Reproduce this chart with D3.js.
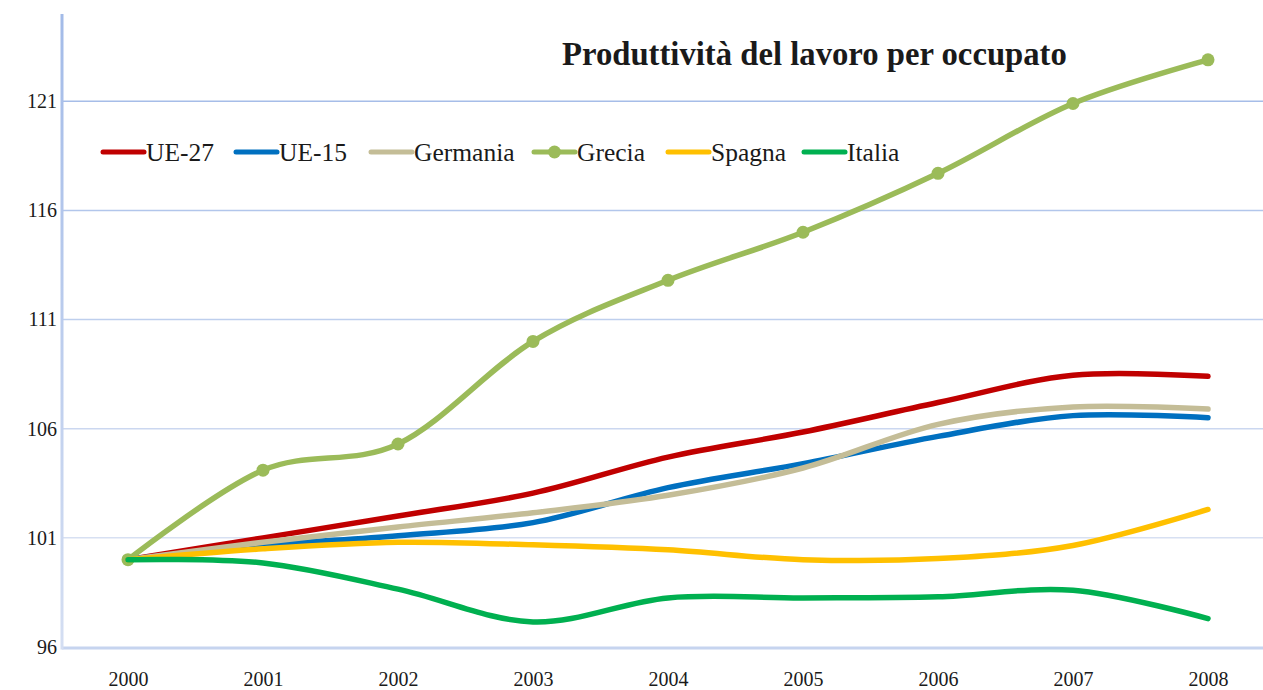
<!DOCTYPE html>
<html lang='it'>
<head>
<meta charset='utf-8'/>
<title>Produttività del lavoro per occupato</title>
<script src='https://d3js.org/d3.v7.min.js'></script>
<style>
  body { margin: 0; background: #ffffff; }
  text { font-family: 'Liberation Serif', 'DejaVu Serif', serif; fill: #1a1a1a; }
</style>
</head>
<body>
<script>
'use strict'

// data (index, 2000 = 100)
const years = ['2000', '2001', '2002', '2003', '2004', '2005', '2006', '2007', '2008']
const yTicks = [96, 101, 106, 111, 116, 121]
const seriesNames = ['UE-27', 'UE-15', 'Germania', 'Grecia', 'Spagna', 'Italia']
const seriesColors = ['#c00000', '#0070c0', '#c4bd97', '#9bbb59', '#ffc000', '#00b050']
const ue27 = [100, 101.0, 102.0, 103.05, 104.7, 105.85, 107.2, 108.45, 108.4]
const ue15 = [100, 100.65, 101.1, 101.7, 103.3, 104.4, 105.65, 106.6, 106.5]
const germania = [100, 100.8, 101.5, 102.15, 102.95, 104.2, 106.2, 107.0, 106.9]
const grecia = [100, 104.1, 105.3, 110.0, 112.8, 115.0, 117.7, 120.9, 122.9]
const spagna = [100, 100.5, 100.8, 100.68, 100.45, 100.0, 100.05, 100.65, 102.3]
const italia = [100, 99.85, 98.65, 97.15, 98.25, 98.25, 98.3, 98.6, 97.3]
const values = [ue27, ue15, germania, grecia, spagna, italia]

const W = 1263, H = 690
const plot = {left: 62, right: 1263, top: 14, bottom: 647}

const svg = d3.select('body').append('svg')
  .attr('width', W)
  .attr('height', H)

const defs = svg.append('defs')
const grad = defs.append('linearGradient')
  .attr('id', 'axisGrad')
  .attr('x1', 0).attr('y1', 0).attr('x2', 0).attr('y2', 1)
grad.append('stop').attr('offset', '0%').attr('stop-color', '#a3bbe8')
grad.append('stop').attr('offset', '100%').attr('stop-color', '#d4def2')

const x = d3.scalePoint()
  .domain(years)
  .range([128, 1208])

const y = d3.scaleLinear()
  .domain([96, 125])
  .range([plot.bottom, plot.top])

// gridlines, darker near the top
const gridColor = d3.scaleLinear()
  .domain([96, 121])
  .range(['#e3e9f5', '#a6bde8'])

svg.append('g')
  .selectAll('line')
  .data(yTicks.slice(1))
  .join('line')
    .attr('x1', plot.left)
    .attr('x2', plot.right)
    .attr('y1', d => y(d))
    .attr('y2', d => y(d))
    .attr('stroke', d => gridColor(d))
    .attr('stroke-width', 1.5)

// y axis labels
const yAxis = svg.append('g')
  .attr('transform', `translate(${plot.left - 5},0)`)
  .call(d3.axisLeft(y).tickValues(yTicks).tickSize(0).tickPadding(0))
yAxis.select('.domain').remove()
yAxis.selectAll('text')
  .style('font-family', "'Liberation Serif', serif")
  .style('font-size', '20px')
  .attr('fill', '#1a1a1a')

// x axis labels
const xAxis = svg.append('g')
  .attr('transform', `translate(0,${plot.bottom + 25})`)
  .call(d3.axisBottom(x).tickSize(0).tickPadding(0))
xAxis.select('.domain').remove()
xAxis.selectAll('text')
  .style('font-family', "'Liberation Serif', serif")
  .style('font-size', '20px')
  .attr('fill', '#1a1a1a')

// axis lines
svg.append('line')
  .attr('x1', plot.left).attr('x2', plot.right)
  .attr('y1', plot.bottom + 1).attr('y2', plot.bottom + 1)
  .attr('stroke', '#c6d4ef')
  .attr('stroke-width', 3)
svg.append('rect')
  .attr('x', plot.left - 1.5)
  .attr('y', plot.top)
  .attr('width', 3)
  .attr('height', plot.bottom - plot.top + 2.5)
  .attr('fill', 'url(#axisGrad)')

// lines
const line = d3.line()
  .x((d, i) => x(years[i]))
  .y(d => y(d))
  .curve(d3.curveCardinal.tension(0))

const series = svg.append('g')
series.selectAll('path')
  .data(values)
  .join('path')
    .attr('d', d => line(d))
    .attr('fill', 'none')
    .attr('stroke', (d, i) => seriesColors[i])
    .attr('stroke-width', 5.5)
    .attr('stroke-linecap', 'round')
    .attr('stroke-linejoin', 'round')

// markers for Grecia, placed under the later series
const gi = seriesNames.indexOf('Grecia')
series.insert('g', 'path:nth-child(5)')
  .selectAll('circle')
  .data(grecia)
  .join('circle')
    .attr('cx', (d, i) => x(years[i]))
    .attr('cy', d => y(d))
    .attr('r', 6.5)
    .attr('fill', seriesColors[gi])

// legend
const legendX = [103, 236, 371, 534, 668, 804]
const legend = svg.append('g')
  .selectAll('g')
  .data(seriesNames)
  .join('g')
    .attr('transform', (d, i) => `translate(${legendX[i]},152)`)
legend.append('line')
  .attr('x1', 0).attr('x2', 41)
  .attr('y1', 0).attr('y2', 0)
  .attr('stroke', (d, i) => seriesColors[i])
  .attr('stroke-width', 5)
  .attr('stroke-linecap', 'round')
legend.filter(d => d === 'Grecia')
  .append('circle')
    .attr('cx', 20.5)
    .attr('r', 6.5)
    .attr('fill', seriesColors[gi])
legend.append('text')
  .attr('x', 43)
  .attr('y', 8.5)
  .style('font-size', '25.5px')
  .text(d => d)

// title
svg.append('text')
  .attr('x', 562)
  .attr('y', 65)
  .style('font-size', '32.7px')
  .style('font-weight', 'bold')
  .text('Produttività del lavoro per occupato')
</script>
</body>
</html>
